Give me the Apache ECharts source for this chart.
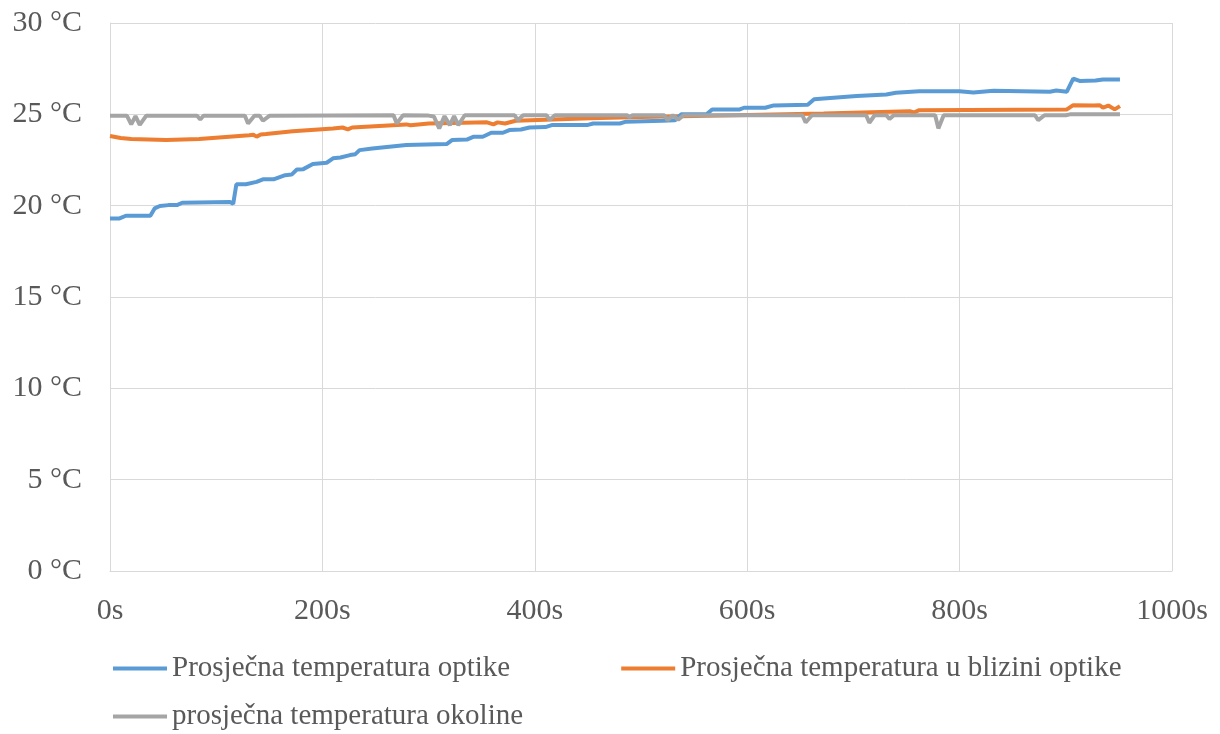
<!DOCTYPE html>
<html>
<head>
<meta charset="utf-8">
<script src="https://cdn.jsdelivr.net/npm/echarts@6/dist/echarts.min.js"></script>
<style>html,body{margin:0;padding:0;background:#fff}#c{width:1220px;height:734px}</style>
</head>
<body>
<div id="c"></div>
<script>
const seriesNames = ['Prosječna temperatura optike', 'Prosječna temperatura u blizini optike', 'prosječna temperatura okoline'];
const xTicks = [0, 200, 400, 600, 800, 1000];
const yTicks = [0, 5, 10, 15, 20, 25, 30];

const opticsT = [0, 9, 15, 38, 42, 47, 55, 63, 68, 113, 116, 119, 128, 138, 144, 154, 165, 171, 176, 182, 191, 204, 210, 217, 226, 231, 235, 247, 279, 317, 322, 336, 342, 351, 359, 370, 376, 387, 395, 410, 416, 450, 455, 480, 486, 520, 532, 538, 562, 567, 593, 597, 617, 625, 657, 663, 672, 703, 731, 740, 762, 800, 813, 832, 885, 891, 901, 907, 913, 928, 935, 951];
const opticsV = [19.3, 19.3, 19.45, 19.45, 19.85, 19.98, 20.03, 20.03, 20.16, 20.2, 20.1, 21.17, 21.17, 21.3, 21.44, 21.44, 21.67, 21.7, 21.98, 22.0, 22.28, 22.35, 22.59, 22.64, 22.77, 22.82, 23.04, 23.13, 23.32, 23.37, 23.59, 23.62, 23.77, 23.77, 23.99, 23.99, 24.14, 24.17, 24.28, 24.3, 24.41, 24.42, 24.5, 24.5, 24.6, 24.65, 24.68, 25.0, 25.02, 25.27, 25.27, 25.36, 25.36, 25.49, 25.52, 25.82, 25.87, 26.0, 26.09, 26.18, 26.27, 26.27, 26.2, 26.29, 26.24, 26.3, 26.24, 26.96, 26.83, 26.85, 26.91, 26.91];

const nearT = [0, 10, 20, 53, 84, 131, 135, 138, 142, 147, 172, 210, 219, 224, 228, 279, 283, 300, 355, 361, 365, 372, 382, 452, 500, 600, 672, 753, 757, 762, 901, 907, 926, 932, 935, 940, 946, 951];
const nearV = [23.81, 23.7, 23.65, 23.6, 23.65, 23.86, 23.88, 23.78, 23.9, 23.92, 24.08, 24.23, 24.28, 24.18, 24.28, 24.45, 24.4, 24.5, 24.56, 24.45, 24.56, 24.5, 24.65, 24.78, 24.85, 24.97, 25.05, 25.17, 25.1, 25.23, 25.27, 25.5, 25.48, 25.5, 25.36, 25.48, 25.27, 25.45];

const ambientT = [0, 16, 20, 24, 28, 34, 82, 85, 88, 127, 130, 136, 141, 144, 150, 267, 270, 276, 300, 305, 310, 315, 320, 324, 328, 334, 381, 384, 389, 411, 414, 419, 487, 489, 492, 522, 525, 530, 535, 540, 652, 655, 661, 712, 715, 720, 731, 734, 738, 777, 780, 785, 871, 874, 880, 900, 904, 951];
const ambientV = [24.92, 24.92, 24.45, 24.9, 24.42, 24.92, 24.92, 24.72, 24.92, 24.92, 24.5, 24.92, 24.92, 24.65, 24.92, 24.95, 24.5, 24.95, 24.93, 24.88, 24.23, 24.9, 24.41, 24.9, 24.41, 24.95, 24.95, 24.68, 24.95, 24.95, 24.7, 24.95, 24.95, 24.85, 24.95, 24.95, 24.68, 24.95, 24.7, 24.95, 24.95, 24.55, 24.95, 24.95, 24.54, 24.95, 24.95, 24.74, 24.95, 24.95, 24.23, 24.95, 24.95, 24.68, 24.95, 24.95, 25.0, 25.0];

const colors = ['#5B9BD5', '#ED7D31', '#A5A5A5'];
const pair = (t, v) => t.map((x, i) => [x, v[i]]);
const FONT = "'Liberation Serif', 'Times New Roman', serif";

const chart = echarts.init(document.getElementById('c'), null, {renderer: 'canvas'});
chart.setOption({
  animation: false,
  backgroundColor: '#fff',
  color: colors,
  textStyle: {fontFamily: FONT},
  grid: {left: 110, right: 48, top: 23, bottom: 163, containLabel: false},
  xAxis: {
    type: 'value', min: xTicks[0], max: xTicks[xTicks.length - 1], interval: 200,
    axisLine: {show: true, lineStyle: {color: '#D9D9D9', width: 1}},
    axisTick: {show: false},
    splitLine: {show: true, lineStyle: {color: '#D9D9D9', width: 1}},
    axisLabel: {formatter: v => v + 's', color: '#595959', fontSize: 30, fontFamily: FONT, margin: 25}
  },
  yAxis: {
    type: 'value', min: yTicks[0], max: yTicks[yTicks.length - 1], interval: 5,
    axisLine: {show: true, lineStyle: {color: '#D9D9D9', width: 1}},
    axisTick: {show: false},
    splitLine: {show: true, lineStyle: {color: '#D9D9D9', width: 1}},
    axisLabel: {formatter: v => v + ' °C', color: '#595959', fontSize: 30, fontFamily: FONT, margin: 28}
  },
  legend: [
    {
      data: [seriesNames[0], seriesNames[1]], left: 113, top: 654, orient: 'horizontal', padding: 0,
      icon: 'rect', itemWidth: 54, itemHeight: 4, itemGap: 111,
      textStyle: {color: '#595959', fontSize: 29, fontFamily: FONT}
    },
    {
      data: [seriesNames[2]], left: 113, top: 702, orient: 'horizontal', padding: 0,
      icon: 'rect', itemWidth: 54, itemHeight: 4,
      textStyle: {color: '#595959', fontSize: 29, fontFamily: FONT}
    }
  ],
  series: [
    {name: seriesNames[0], type: 'line', data: pair(opticsT, opticsV), showSymbol: false, lineStyle: {width: 4, color: colors[0]}, z: 3},
    {name: seriesNames[1], type: 'line', data: pair(nearT, nearV), showSymbol: false, lineStyle: {width: 4, color: colors[1]}, z: 2},
    {name: seriesNames[2], type: 'line', data: pair(ambientT, ambientV), showSymbol: false, lineStyle: {width: 4, color: colors[2]}, z: 4}
  ]
});
</script>
</body>
</html>
